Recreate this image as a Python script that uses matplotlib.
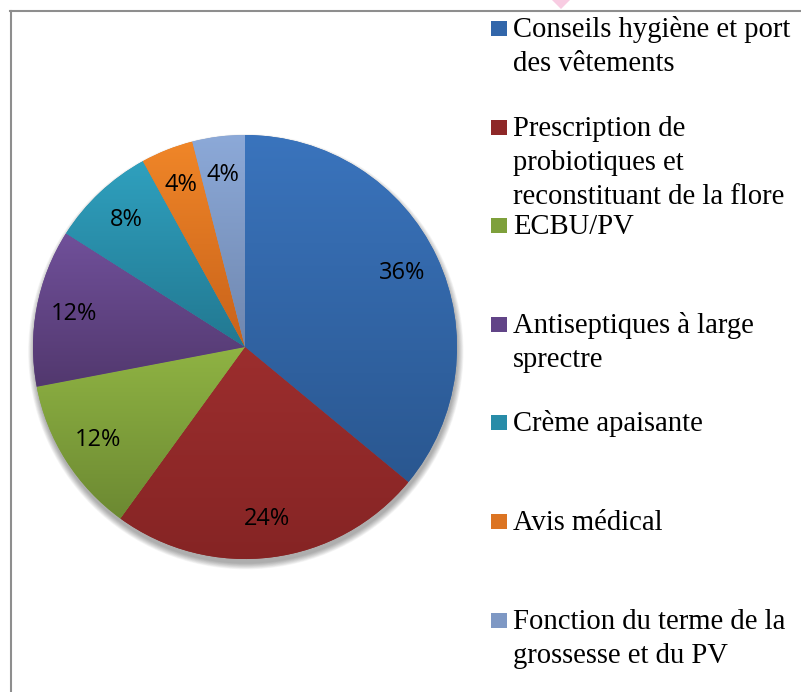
import numpy as np
import matplotlib
matplotlib.use("Agg")
import matplotlib.pyplot as plt
from matplotlib.patches import Circle, Rectangle, Polygon
from matplotlib.lines import Line2D
from matplotlib.colors import to_rgb

# ---- data ----
categories = [
    "Conseils hygiène et port\ndes vêtements",
    "Prescription de\nprobiotiques et\nreconstituant de la flore",
    "ECBU/PV",
    "Antiseptiques à large\nsprectre",
    "Crème apaisante",
    "Avis médical",
    "Fonction du terme de la\ngrossesse et du PV",
]
values = [36, 24, 12, 12, 8, 4, 4]

# ---- style ----
top_colors = ["#3A74BD", "#9C2E2E", "#8FB343", "#70509A", "#2FA0BE", "#F08628", "#8CA9D8"]
bot_colors = ["#2A5790", "#852424", "#6C8932", "#52386E", "#227891", "#C8621A", "#6F87AF"]
mid_colors = ["#3266AA", "#8E2828", "#7EA03B", "#614487", "#288CA8", "#DC7422", "#7E98C4"]

W, H = 801, 692
fig = plt.figure(figsize=(W / 100, H / 100), dpi=100)
fig.patch.set_facecolor("white")

def fx(x):
    return x / W

def fy(y):
    return 1 - y / H

# pie axes: center (245,347) px, radius 212 px
cx, cy, R = 245, 347, 212
half = 230
ax = fig.add_axes([fx(cx - half), fy(cy + half), 2 * half / W, 2 * half / H])
lim = half / R

wedges, texts, autotexts = ax.pie(
    values, startangle=90, counterclock=False, radius=1.0,
    colors=mid_colors, autopct="%1.0f%%", pctdistance=0.82,
    wedgeprops=dict(linewidth=0), labels=None,
    textprops=dict(fontfamily="Open Sans", fontsize=17, color="black"),
)
ax.set_xlim(-lim, lim)
ax.set_ylim(-lim, lim)
ax.set_aspect("equal")
ax.axis("off")

# soft shadow
for i in range(10):
    ax.add_patch(Circle((0.004, -0.022), 1.0 + 0.003 * i, color="#000000",
                        alpha=0.035, lw=0, zorder=0))

# gradient fill per wedge
for w, tc, bc in zip(wedges, top_colors, bot_colors):
    verts = w.get_path().vertices
    y0, y1 = verts[:, 1].min(), verts[:, 1].max()
    x0, x1 = verts[:, 0].min(), verts[:, 0].max()
    n = 128
    t = np.linspace(0, 1, n)[:, None]
    c0, c1 = np.array(to_rgb(tc)), np.array(to_rgb(bc))
    grad = (1 - t) * c0 + t * c1
    img = np.repeat(grad[:, None, :], 2, axis=1)
    im = ax.imshow(img, extent=[x0, x1, y0, y1], origin="upper",
                   aspect="auto", zorder=1.5, interpolation="bilinear")
    im.set_clip_path(w)
ax.set_xlim(-lim, lim)
ax.set_ylim(-lim, lim)
for t_ in autotexts:
    t_.set_zorder(3)

# legend (manual)
slot0, step, lsp = 37, 98.6, 34
for i, (lab, col) in enumerate(zip(categories, mid_colors)):
    base = slot0 + i * step
    fig.patches.append(Rectangle((fx(491), fy(base - 1)), 16 / W, 15 / H,
                                 transform=fig.transFigure, color=col, lw=0))
    for k, line in enumerate(lab.split("\n")):
        fig.text(fx(513), fy(base + k * lsp), line, fontfamily="Liberation Serif",
                 fontsize=20.6, va="baseline", ha="left", color="black")

# frame lines
fig.lines.append(Line2D([fx(10), 1.0], [fy(11), fy(11)], transform=fig.transFigure,
                        color="#8E8E8E", lw=1.5))
fig.lines.append(Line2D([fx(11), fx(11)], [fy(11), 0.0], transform=fig.transFigure,
                        color="#8E8E8E", lw=1.5))

# small pink marker at top
fig.patches.append(Polygon([(fx(552), fy(0)), (fx(570), fy(0)), (fx(561), fy(9))],
                           closed=True, transform=fig.transFigure,
                           color="#F8CCE2", lw=0))

fig.savefig("out.png", dpi=100, facecolor="white")
